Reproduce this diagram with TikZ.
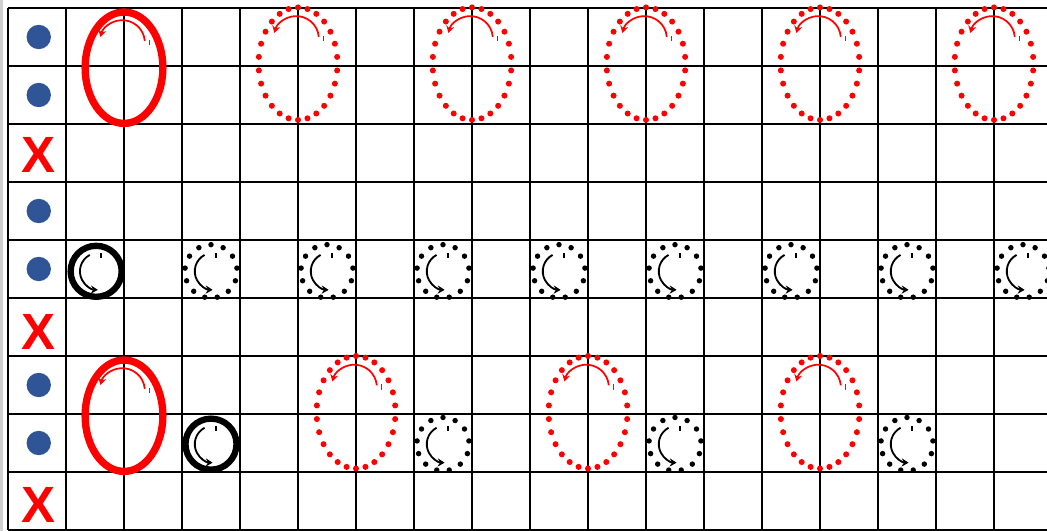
\documentclass[tikz,border=0pt]{standalone}
\usepackage{fontspec}
\setmainfont{Liberation Sans}
\usepackage{tikz}
\usetikzlibrary{arrows.meta}
\usepackage{xcolor}
\definecolor{pred}{RGB}{255,0,0}
\definecolor{dotblue}{RGB}{47,85,151}
\definecolor{edgegray}{RGB}{208,208,208}
\tikzset{
  gridln/.style={line width=1.3pt, draw=black},
  ringR/.style={draw=pred, line width=3.6pt},
  ringK/.style={draw=black, line width=3.1pt},
  spinR/.style={-{Stealth[length=3.4pt, width=4pt]}, draw=pred, line width=0.85pt},
  spinK/.style={-{Stealth[length=3.4pt, width=4pt]}, draw=black, line width=0.9pt},
  tickR/.style={draw=pred, line width=0.85pt},
  tickK/.style={draw=black, line width=0.9pt},
  crossmk/.style={font=\fontsize{25}{25}\selectfont\bfseries, text=pred,
    inner sep=0pt},
}

\begin{document}
\begin{tikzpicture}[x=1cm, y=1cm]
  \useasboundingbox (-0.138,-0.017) rectangle (17.914,9.138);

  % -- grid --
  \draw[edgegray, line width=1pt] (-0.112,-0.017) -- (-0.112,9.138);
  \draw[gridln] (0,0) grid (18,9);

  % -- first column: dots and crosses --
  \foreach \ry in {8.5,7.5,5.5,4.5,2.5,1.5}
    \fill[dotblue] (0.53,\ry) circle (0.21);
  \node[crossmk] (xtop) at (0.52,6.46) {X};
  \node[crossmk] (xmid) at (0.52,3.42) {X};
  \node[crossmk] (xbot) at (0.52,0.43) {X};

  % -- big red rings (solid) --
  \draw[ringR] (2,7.97) ellipse (0.67 and 0.96);
  \draw[ringR] (2,1.97) ellipse (0.67 and 0.96);

  % -- big red rings (dotted) --
  \foreach \cx/\cy in {5/8.04, 8/8.04, 11/8.04, 14/8.04, 17/8.04,
                       6/2.03, 10/2.03, 14/2.03}{
    \begin{scope}[shift={(\cx,\cy)}]
      \foreach \k in {0,...,25}
        \fill[pred] ({0.68*cos(90+\k*360/26)},{0.97*sin(90+\k*360/26)})
             circle (0.052);
    \end{scope}
  }

  % red spin arrows
  \foreach \cx/\cy in {2/7.97, 5/8.04, 8/8.04, 11/8.04, 14/8.04, 17/8.04,
                       2/1.97, 6/2.03, 10/2.03, 14/2.03}{
    \begin{scope}[shift={(\cx,\cy)}]
      \draw[spinR] ([shift={(-0.03,0.43)}]5:0.39)
           arc[start angle=5, end angle=165, radius=0.39];
      \draw[tickR] (0.44,0.39) -- (0.44,0.48);
    \end{scope}
  }

  % -- small black rings (solid) --
  \draw[ringK] (1.52,4.46) circle (0.44);
  \draw[ringK] (3.5,1.48) circle (0.44);

  % -- small black rings (dotted) --
  \foreach \cx/\cy in {3.5/4.46, 5.5/4.46, 7.5/4.46, 9.5/4.46, 11.5/4.46,
                       13.5/4.46, 15.5/4.46, 17.5/4.46,
                       7.5/1.48, 11.5/1.48, 15.5/1.48}{
    \begin{scope}[shift={(\cx,\cy)}]
      \foreach \k in {0,...,12}
        \fill[black] ({0.45*cos(90+\k*360/13)},{0.46*sin(90+\k*360/13)})
             circle (0.047);
    \end{scope}
  }

  % black spin arrows
  \foreach \cx/\cy in {1.52/4.46, 3.5/4.46, 5.5/4.46, 7.5/4.46, 9.5/4.46,
                       11.5/4.46, 13.5/4.46, 15.5/4.46, 17.5/4.46,
                       3.5/1.48, 7.5/1.48, 11.5/1.48, 15.5/1.48}{
    \begin{scope}[shift={(\cx,\cy)}]
      \draw[spinK] ([shift={(0.04,0)}]118:0.32)
           arc[start angle=118, end angle=268, radius=0.32];
      \draw[tickK] (0.08,0.23) -- (0.08,0.32);
    \end{scope}
  }
\end{tikzpicture}
\end{document}
